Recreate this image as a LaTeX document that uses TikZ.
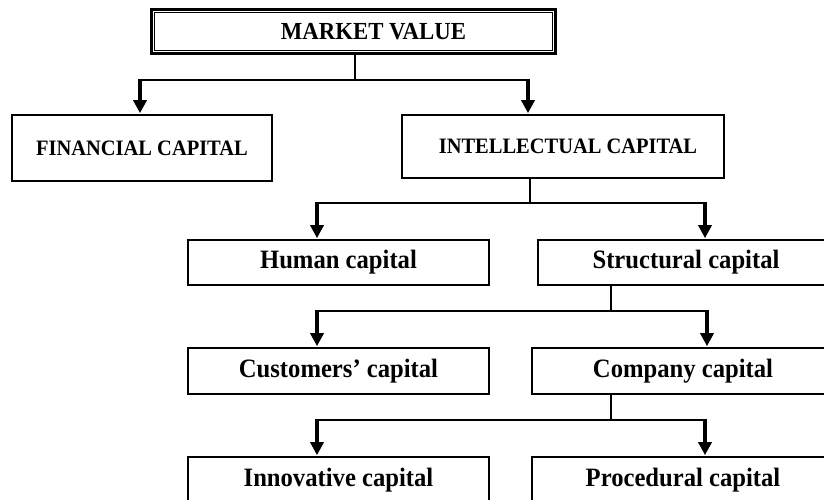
\documentclass[tikz,border=0pt]{standalone}
\usepackage{fontspec}
\setmainfont{Liberation Serif}[FakeStretch=0.93]
\usetikzlibrary{arrows.meta,calc}
\begin{document}
\begin{tikzpicture}[x=1pt,y=-1pt,
  box/.style={draw=black, line width=1.6pt, inner sep=0pt, font=\bfseries},
  capsbox/.style={box, font=\fontsize{22}{24}\selectfont\bfseries},
  lowbox/.style={box, minimum width=301pt, minimum height=45pt, font=\fontsize{26.5}{30}\selectfont\bfseries},
  stem/.style={line width=1.6pt},
  hline/.style={line width=2pt},
  downarrow/.style={line width=4pt, -{Triangle[width=13pt,length=13pt]}, shorten >=1pt}
]
\useasboundingbox (0,0) rectangle (824,500);
\clip (0,0) rectangle (824,500);
\fill[white] (0,0) rectangle (824,500);

% Top box
\node[box, line width=3pt, minimum width=404pt, minimum height=44pt,
      font=\fontsize{24.5}{28}\selectfont\bfseries] (mv) at (353.5,31.5) {\hspace*{40pt}\raisebox{-2pt}{MARKET VALUE}};
\draw[line width=1pt] ([shift={(4.5pt,-4.5pt)}]mv.north west) rectangle ([shift={(-4.5pt,4.5pt)}]mv.south east);

% Level 1
\node[capsbox, minimum width=260pt, minimum height=66pt] (fc) at (142,148) {FINANCIAL CAPITAL};
\node[capsbox, minimum width=322pt, minimum height=63pt] (ic) at (563,146.5) {\hspace*{10pt}\raisebox{-1.5pt}{INTELLECTUAL CAPITAL}};

% Level 2
\node[lowbox] (hc) at (338.5,262.5) {Human capital};
\node[lowbox, minimum width=296pt] (sc) at (686,262.5) {Structural capital};

% Level 3
\node[lowbox, minimum height=46pt] (cu) at (338.5,371) {Customers’ capital};
\node[lowbox, minimum width=302pt, minimum height=46pt] (co) at (683,371) {Company capital};

% Level 4
\node[lowbox, minimum height=46pt] (in) at (338.5,480) {Innovative capital};
\node[lowbox, minimum width=302pt, minimum height=46pt] (pr) at (683,480) {Procedural capital};

% Connectors level 0 -> 1
\coordinate (j1) at (355,80);
\coordinate (l1) at (140,80);
\coordinate (r1) at (528,80);
\draw[stem] (mv.south -| j1) -- (j1);
\draw[hline] (l1) -- (r1);
\draw[downarrow] ($(l1)+(0,-1)$) -- (l1 |- fc.north);
\draw[downarrow] ($(r1)+(0,-1)$) -- (r1 |- ic.north);

% IC -> level 2
\coordinate (j2) at (530,203);
\coordinate (l2) at (317,203);
\coordinate (r2) at (705,203);
\draw[stem] (ic.south -| j2) -- (j2);
\draw[hline] (l2) -- (r2);
\draw[downarrow] ($(l2)+(0,-1)$) -- (l2 |- hc.north);
\draw[downarrow] ($(r2)+(0,-1)$) -- (r2 |- sc.north);

% SC -> level 3
\coordinate (j3) at (611,311);
\coordinate (l3) at (317,311);
\coordinate (r3) at (707,311);
\draw[stem] (sc.south -| j3) -- (j3);
\draw[hline] (l3) -- (r3);
\draw[downarrow] ($(l3)+(0,-1)$) -- (l3 |- cu.north);
\draw[downarrow] ($(r3)+(0,-1)$) -- (r3 |- co.north);

% CO -> level 4
\coordinate (j4) at (611,420);
\coordinate (l4) at (317,420);
\coordinate (r4) at (705,420);
\draw[stem] (co.south -| j4) -- (j4);
\draw[hline] (l4) -- (r4);
\draw[downarrow] ($(l4)+(0,-1)$) -- (l4 |- in.north);
\draw[downarrow] ($(r4)+(0,-1)$) -- (r4 |- pr.north);
\end{tikzpicture}
\end{document}
